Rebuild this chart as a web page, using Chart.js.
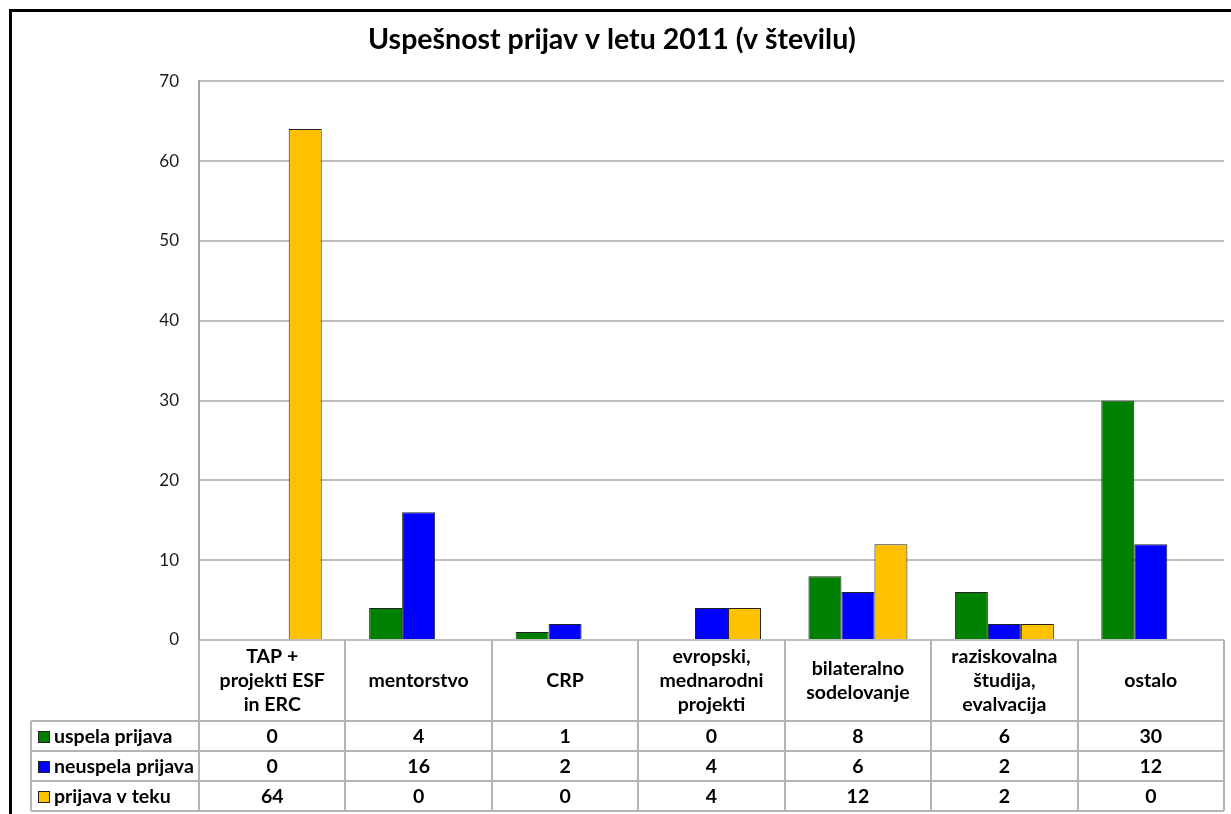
<!DOCTYPE html>
<html>
<head>
<meta charset="utf-8">
<script src="https://cdn.jsdelivr.net/npm/chart.js@4.4.0/dist/chart.umd.min.js"></script>
<style>
  html, body { margin: 0; padding: 0; background: #fff; }
</style>
</head>
<body>
<canvas id="chart" width="1231" height="814"></canvas>
<script>
// chart data
const categories = [
  ['TAP +', 'projekti ESF', 'in ERC'],
  ['mentorstvo'],
  ['CRP'],
  ['evropski,', 'mednarodni', 'projekti'],
  ['bilateralno', 'sodelovanje'],
  ['raziskovalna', 'študija,', 'evalvacija'],
  ['ostalo']
];
const seriesNames = ['uspela prijava', 'neuspela prijava', 'prijava v teku'];
const uspela = [0, 4, 1, 0, 8, 6, 30];
const neuspela = [0, 16, 2, 4, 6, 2, 12];
const vTeku = [64, 0, 0, 4, 12, 2, 0];
const yTicks = [0, 10, 20, 30, 40, 50, 60, 70];

const colors = ['#008000', '#0000ff', '#ffc000'];
const gridColor = '#bfbfbf';
const FONT = 'Lato';

// draws the data table under the plot, plus the outer frame
const tablePlugin = {
  id: 'dataTable',
  afterDraw(chart) {
    const ctx = chart.ctx;
    const x = chart.scales.x;
    const area = chart.chartArea;
    const n = categories.length;
    const step = x.width / n;
    const top = area.bottom;
    const labelBottom = top + 81;
    const rows = [labelBottom, labelBottom + 30, labelBottom + 60, labelBottom + 90];
    const legendLeft = 31;
    const values = chart.data.datasets.map(d => d.data);

    ctx.save();
    ctx.strokeStyle = '#b4b4b4';
    ctx.lineWidth = 2;
    ctx.beginPath();
    // vertical lines between categories
    for (let i = 0; i <= n; i++) {
      const px = Math.round(x.left + step * i);
      ctx.moveTo(px, top);
      ctx.lineTo(px, rows[3]);
    }
    // horizontal lines of value rows
    rows.forEach(ry => {
      ctx.moveTo(legendLeft, ry);
      ctx.lineTo(x.right, ry);
    });
    ctx.moveTo(legendLeft, rows[0]);
    ctx.lineTo(legendLeft, rows[3]);
    ctx.stroke();

    ctx.fillStyle = '#000';
    ctx.textAlign = 'center';
    ctx.textBaseline = 'middle';
    ctx.font = 'bold 19.5px ' + FONT;
    // category labels
    categories.forEach((lines, i) => {
      const cx = x.getPixelForValue(i);
      const lh = 24;
      const y0 = (top + labelBottom) / 2 - (lines.length - 1) * lh / 2;
      lines.forEach((t, k) => ctx.fillText(t, cx, y0 + k * lh));
    });
    // values
    values.forEach((arr, r) => {
      const cy = (rows[r] + rows[r + 1]) / 2 + 1;
      arr.forEach((v, i) => ctx.fillText(String(v), x.getPixelForValue(i), cy));
      // legend key
      ctx.fillStyle = colors[r];
      ctx.fillRect(38, cy - 6, 12, 12);
      ctx.strokeStyle = '#222';
      ctx.lineWidth = 1;
      ctx.strokeRect(38.5, cy - 5.5, 11, 11);
      ctx.fillStyle = '#000';
      ctx.textAlign = 'left';
      ctx.fillText(seriesNames[r], 54, cy);
      ctx.textAlign = 'center';
    });

    // outer frame
    ctx.strokeStyle = '#000';
    ctx.lineWidth = 3;
    ctx.strokeRect(10.5, 10.5, 1300, 900);
    ctx.restore();
  }
};

const makeChart = () => new Chart(document.getElementById('chart'), {
  type: 'bar',
  data: {
    labels: categories,
    datasets: [uspela, neuspela, vTeku].map((d, i) => ({
      label: seriesNames[i],
      data: d,
      backgroundColor: colors[i],
      borderColor: '#222',
      borderWidth: 1,
      borderSkipped: 'bottom',
      categoryPercentage: 0.676,
      barPercentage: 1
    }))
  },
  options: {
    responsive: false,
    animation: false,
    layout: { padding: { top: 10, left: 0, right: 7, bottom: 174 } },
    plugins: {
      legend: { display: false },
      tooltip: { enabled: false },
      title: {
        display: true,
        text: 'Uspešnost prijav v letu 2011 (v številu)',
        color: '#000',
        font: { family: FONT, size: 28.5, weight: 'bold' },
        padding: { top: 13, bottom: 24 }
      }
    },
    scales: {
      x: { display: false },
      y: {
        min: 0,
        max: 70,
        afterFit: s => { s.width = 199; },
        afterBuildTicks: s => { s.ticks = yTicks.map(v => ({ value: v })); },
        grid: { color: gridColor, lineWidth: 2, drawTicks: false },
        border: { display: true, color: '#a6a6a6', width: 2 },
        ticks: {
          padding: 20,
          color: '#1a1a1a',
          font: { family: FONT, size: 17 }
        }
      }
    }
  },
  plugins: [tablePlugin]
});

Promise.all([
  document.fonts.load('bold 16px Lato'),
  document.fonts.load('17px Lato')
]).then(makeChart, makeChart);
</script>
</body>
</html>
